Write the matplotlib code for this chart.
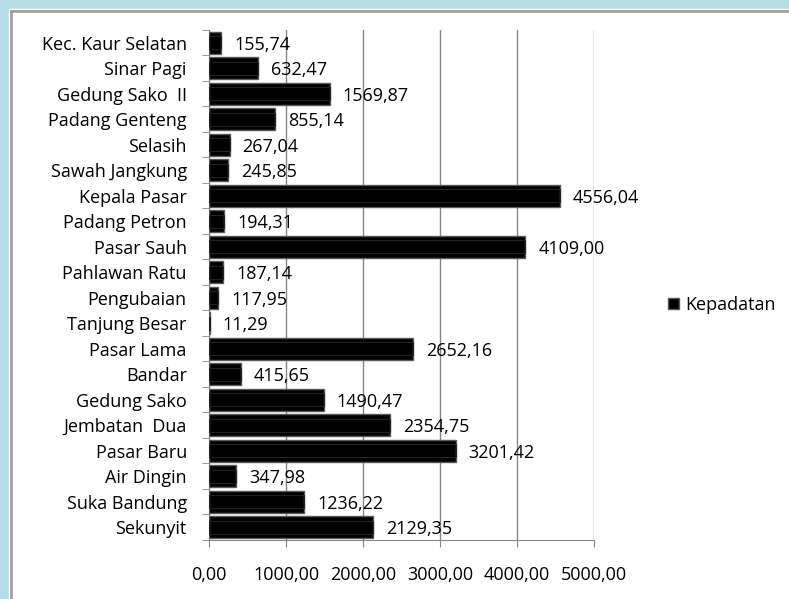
import matplotlib.pyplot as plt
from matplotlib.patches import Rectangle
from matplotlib.lines import Line2D

#---data---#
categories = ['Kec. Kaur Selatan', 'Sinar Pagi', 'Gedung Sako  II', 'Padang Genteng', 'Selasih',
              'Sawah Jangkung', 'Kepala Pasar', 'Padang Petron', 'Pasar Sauh', 'Pahlawan Ratu',
              'Pengubaian', 'Tanjung Besar', 'Pasar Lama', 'Bandar', 'Gedung Sako',
              'Jembatan  Dua', 'Pasar Baru', 'Air Dingin', 'Suka Bandung', 'Sekunyit']
kepadatan = [155.74, 632.47, 1569.87, 855.14, 267.04,
             245.85, 4556.04, 194.31, 4109.00, 187.14,
             117.95, 11.29, 2652.16, 415.65, 1490.47,
             2354.75, 3201.42, 347.98, 1236.22, 2129.35]
xticks = [0, 1000, 2000, 3000, 4000, 5000]

plt.rcParams['font.family'] = ['Open Sans', 'DejaVu Sans']
FS = 13

fig = plt.figure(figsize=(7.89, 5.99), dpi=100)
W, H = 789.0, 599.0

#---frame: blue band top/left, grey border---#
fig.patches.append(Rectangle((0, 0), 1, 1, transform=fig.transFigure, color='#b7dde8', zorder=-3))
fig.patches.append(Rectangle((9 / W, 0), 1, 1 - 9 / H, transform=fig.transFigure, color='white', zorder=-2))
fig.lines.append(Line2D([10.5 / W, 1], [1 - 10.5 / H] * 2, transform=fig.transFigure, color='#a0a0a0', lw=2))
fig.lines.append(Line2D([10.5 / W] * 2, [0, 1 - 10.5 / H], transform=fig.transFigure, color='#a0a0a0', lw=2))

ax = fig.add_axes([209 / W, 1 - 540 / H, 385 / W, 510 / H])
ax.set_facecolor('none')

n = len(categories)
ypos = list(range(n))
ax.barh(ypos, kepadatan, height=0.88, color='black', edgecolor='#5a5a5a', linewidth=1, zorder=3)
# bevel-ish highlight
ax.barh(ypos, kepadatan, height=0.5, color='none', edgecolor='#222222', linewidth=0.8, zorder=4)

for y, v in zip(ypos, kepadatan):
    lab = ('%.2f' % v).replace('.', ',')
    ax.annotate(lab, (v, y), xytext=(13, -2), textcoords='offset pixels',
                va='center', ha='left', fontsize=FS, color='black', zorder=5)

ax.set_ylim(n - 0.5, -0.5)
ax.set_xlim(0, 5000)
ax.set_xticks(xticks)
ax.set_xticklabels([('%.2f' % t).replace('.', ',') for t in xticks], fontsize=FS)
ax.set_yticks(ypos)
ax.set_yticklabels(categories, fontsize=FS)
ax.set_yticks([i - 0.5 for i in range(n + 1)], minor=True)

ax.grid(axis='x', color='#868686', lw=1, zorder=0)
for s in ['top', 'right']:
    ax.spines[s].set_visible(False)
for s in ['left', 'bottom']:
    ax.spines[s].set_color('#868686')
ax.tick_params(axis='y', which='major', length=0, pad=16)
ax.tick_params(axis='y', which='minor', length=5, color='#868686')
ax.tick_params(axis='x', length=5, color='#868686', pad=14)

ax.legend(['Kepadatan'], loc='center left', bbox_to_anchor=(661 / W, 1 - 305 / H),
          bbox_transform=fig.transFigure, frameon=False, fontsize=FS,
          handlelength=0.6, handleheight=0.6, handletextpad=0.35, borderaxespad=0)

fig.savefig('out.png', dpi=100)
